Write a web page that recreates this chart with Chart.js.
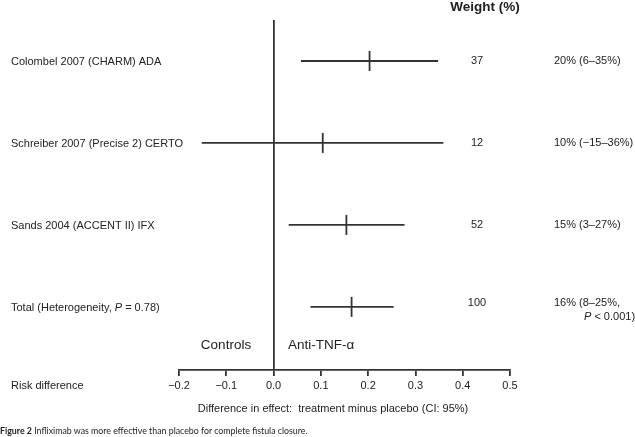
<!DOCTYPE html>
<html>
<head>
<meta charset="utf-8">
<script src="https://cdn.jsdelivr.net/npm/chart.js@4.4.1/dist/chart.umd.min.js"></script>
<style>
  body { margin: 0; background: #fff; }
  #wrap { position: relative; width: 635px; height: 437px; }
  #caption { position: absolute; left: 0; top: 425px; font-family: Lato, "Open Sans", sans-serif; font-size: 8.8px; color: #222; white-space: nowrap; }
  #caption b { color: #222; }
</style>
</head>
<body>
<div id="wrap">
  <canvas id="myChart" width="635" height="437"></canvas>
  <div id="caption"><b>Figure 2</b> Infliximab was more effective than placebo for complete fistula closure.</div>
</div>
<script>
// study rows
const studies = ['Colombel 2007 (CHARM) ADA', 'Schreiber 2007 (Precise 2) CERTO', 'Sands 2004 (ACCENT II) IFX', 'Total (Heterogeneity, P = 0.78)'];
const estimate = [0.203, 0.104, 0.154, 0.165];
const lower = [0.058, -0.152, 0.032, 0.078];
const upper = [0.348, 0.359, 0.277, 0.254];
const weights = ['37', '12', '52', '100'];
const effectText = ['20% (6–35%)', '10% (−15–36%)', '15% (3–27%)', '16% (8–25%,'];
const totalNote = 'P < 0.001)';
const xTicks = [-0.2, -0.1, 0.0, 0.1, 0.2, 0.3, 0.4, 0.5];

const ink = '#333';
const font = '"Liberation Sans", Arial, sans-serif';

// text with italic P
function richText(ctx, text, x, y, size) {
  let parts = text.split(/(\bP\b)/);
  let cx = x;
  parts.forEach(p => {
    if (!p) return;
    ctx.font = (p === 'P' ? 'italic ' : '') + size + 'px ' + font;
    ctx.fillText(p, cx, y);
    cx += ctx.measureText(p).width;
  });
}

const sideText = {
  id: 'sideText',
  afterDraw(chart) {
    const c = chart.ctx;
    const y = chart.scales.y;
    c.save();
    c.fillStyle = '#222';
    c.textBaseline = 'middle';
    c.textAlign = 'left';
    studies.forEach((s, i) => {
      let py = y.getPixelForValue(i);
      let shift = i === studies.length - 1 ? -4 : 0;
      richText(c, s, 11, py + 1, 11);
      c.textAlign = 'center';
      c.font = '11px ' + font;
      c.fillText(weights[i], 477, py + shift);
      c.textAlign = 'left';
      c.fillText(effectText[i], 554, py + shift);
      if (i === studies.length - 1) {
        richText(c, totalNote, 584, py + shift + 14, 11);
      }
    });
    c.textAlign = 'center';
    c.font = 'bold 13.5px ' + font;
    c.fillText('Weight (%)', 485, 7);
    c.font = '13.5px ' + font;
    c.fillText('Controls', 226, 345);
    c.textAlign = 'left';
    c.fillText('Anti-TNF-α', 288, 345);
    c.font = '11px ' + font;
    c.fillText('Risk difference', 11, 386);
    c.textAlign = 'center';
    c.fillText('Difference in effect:  treatment minus placebo (CI: 95%)', 333, 409);
    c.restore();
  }
};

const datasets = studies.map((s, i) => ({
  type: 'line',
  data: [{x: lower[i], y: i}, {x: upper[i], y: i}],
  borderColor: ink,
  borderWidth: 1.8,
  pointRadius: 0
}));
datasets.push({
  type: 'scatter',
  data: estimate.map((v, i) => ({x: v, y: i})),
  pointStyle: 'line',
  rotation: 90,
  radius: 10,
  borderColor: ink,
  borderWidth: 1.8
});

new Chart(document.getElementById('myChart'), {
  type: 'scatter',
  data: { datasets: datasets },
  options: {
    responsive: false,
    animation: false,
    layout: { padding: { left: 179, right: 125, top: 20, bottom: 37 } },
    plugins: { legend: { display: false }, tooltip: { enabled: false } },
    scales: {
      x: {
        type: 'linear',
        min: -0.2,
        max: 0.5,
        afterBuildTicks: axis => { axis.ticks = xTicks.map(v => ({value: v})); },
        afterFit: axis => { axis.height = 30; },
        border: { color: ink, width: 1.8 },
        grid: {
          color: c => (c.tick && Math.abs(c.tick.value) < 1e-9) ? ink : 'rgba(0,0,0,0)',
          lineWidth: 1.8,
          tickColor: ink,
          tickWidth: 1.8,
          tickLength: 6
        },
        ticks: {
          color: '#222',
          font: { family: font, size: 11 },
          padding: 3,
          callback: v => (v < -1e-9 ? '−' : '') + Math.abs(v).toFixed(1)
        }
      },
      y: {
        type: 'linear',
        display: false,
        reverse: true,
        min: -0.5,
        max: 3.77
      }
    }
  },
  plugins: [sideText]
});
</script>
</body>
</html>
